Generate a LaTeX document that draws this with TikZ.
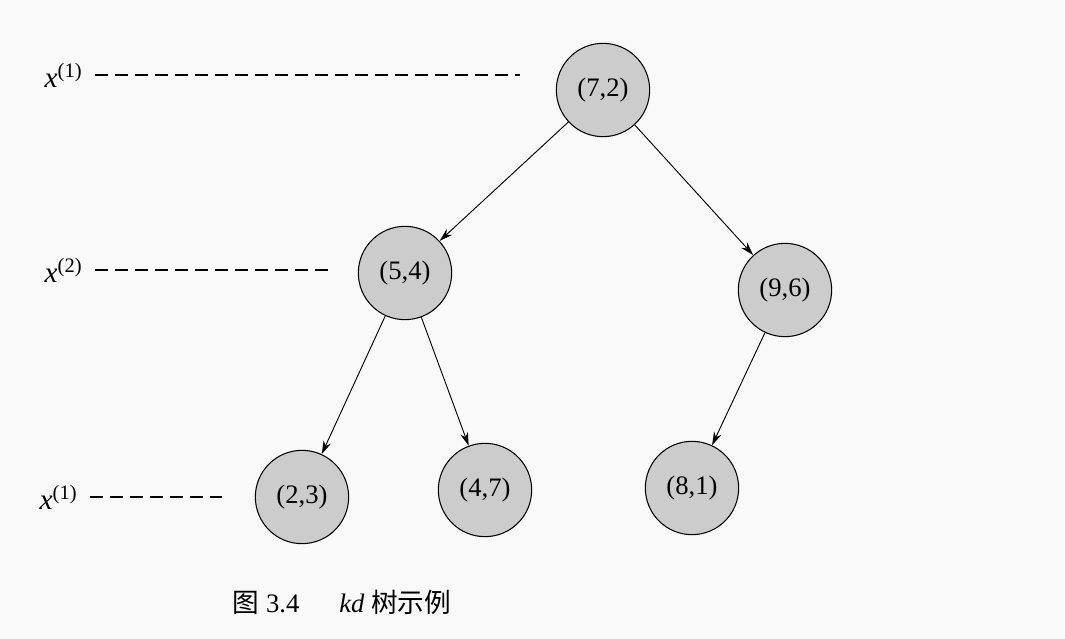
\documentclass[tikz,border=0pt]{standalone}
\usepackage{fontspec}
\setmainfont{Liberation Serif}
\newfontfamily\cjk{Noto Sans CJK SC}
\usetikzlibrary{arrows.meta}
\newcommand{\lvx}[1]{\textit{x}\textsuperscript{(#1)}}
\begin{document}
\begin{tikzpicture}[x=0.75pt,y=-0.75pt,
  kd/.style={circle,draw,line width=0.8pt,fill=gray!40,minimum size=70pt,inner sep=0pt,font=\fontsize{20}{24}\selectfont},
  arr/.style={-{Stealth[length=10pt,width=6pt]},line width=0.7pt},
  lev/.style={line width=1.1pt,dash pattern=on 10pt off 5pt},
  lab/.style={font=\fontsize{22}{26}\selectfont,anchor=west}]
\fill[white!95!gray] (0,0) rectangle (1065,639);
\useasboundingbox (0,0) rectangle (1065,639);
\node[kd] (a) at (603,90) {(7,2)};
\node[kd] (b) at (405,273) {(5,4)};
\node[kd] (c) at (785,290) {(9,6)};
\node[kd] (d) at (302,497) {(2,3)};
\node[kd] (e) at (485,490) {(4,7)};
\node[kd] (f) at (692,488) {(8,1)};
\draw[arr] (a) -- (b);
\draw[arr] (a) -- (c);
\draw[arr] (b) -- (d);
\draw[arr] (b) -- (e);
\draw[arr] (c) -- (f);
\node[lab] (l1) at (40,75) {\lvx{1}};
\coordinate (e1) at (520,75);
\draw[lev] (l1.east) ++(6pt,0) -- (e1);
\node[lab] (l2) at (40,270) {\lvx{2}};
\coordinate (e2) at (330,270);
\draw[lev] (l2.east) ++(6pt,0) -- (e2);
\node[lab] (l3) at (35,497) {\lvx{1}};
\coordinate (e3) at (222,497);
\draw[lev] (l3.east) ++(6pt,0) -- (e3);
\node[anchor=west,font=\fontsize{20}{24}\selectfont] (cap) at (228,602) {{\cjk 图}\ 3.4\quad\ \ \textit{kd} {\cjk 树示例}};
\end{tikzpicture}
\end{document}
